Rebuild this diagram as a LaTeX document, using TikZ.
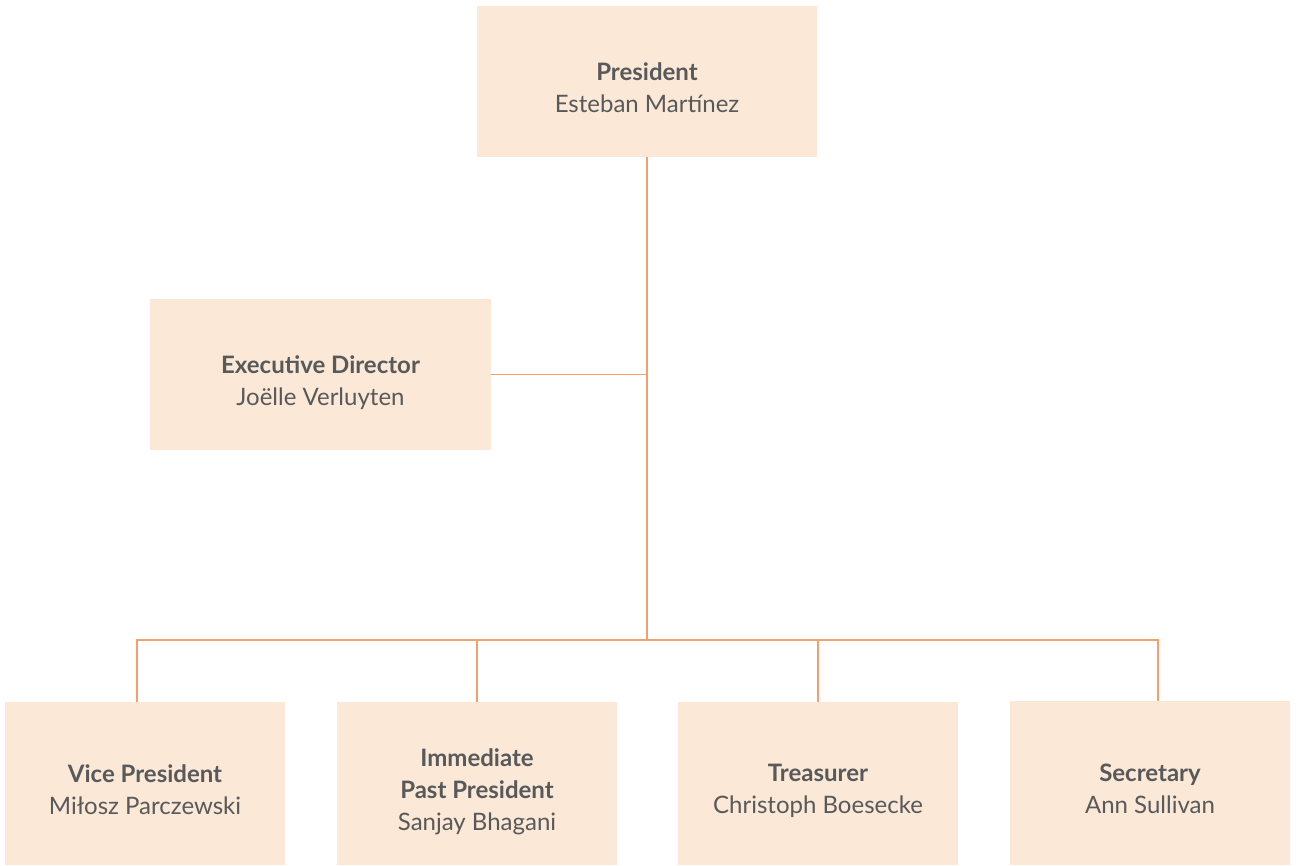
\documentclass[tikz,border=0pt]{standalone}
\usepackage{fontspec}
\setmainfont{Lato}
\definecolor{boxfill}{HTML}{FBE8D6}
\definecolor{linecol}{HTML}{F4A06A}
\definecolor{txt}{HTML}{58595B}
\newcommand{\dsc}{\vphantom{gy}}
\begin{document}
\begin{tikzpicture}[x=0.75pt,y=-0.75pt,
  role/.style={fill=boxfill,draw=none,inner sep=0pt},
  roletxt/.style={inner sep=0pt,align=center,text=txt,yshift=-5.9pt,
    font=\fontsize{18pt}{24pt}\selectfont},
  link/.style={draw=linecol,line width=1.1pt}]
\useasboundingbox (0,0) rectangle (1298,865);
\node[role,minimum width=255pt,minimum height=113.25pt,
  label={[roletxt]center:{\textbf{President}\\Esteban Martínez\dsc}}] (pres) at (647,81.5) {};
\node[role,minimum width=255.75pt,minimum height=113.25pt,
  label={[roletxt]center:{\textbf{Executive Director}\\Joëlle Verluyten\dsc}}] (ed) at (320.5,374.5) {};
\node[role,minimum width=210pt,minimum height=122.25pt,
  label={[roletxt]center:{\textbf{Vice President}\\Miłosz Parczewski\dsc}}] (vp) at (145,783.5) {};
\node[role,minimum width=210pt,minimum height=122.25pt,
  label={[roletxt]center:{\textbf{Immediate}\\\textbf{Past President}\\Sanjay Bhagani\dsc}}] (ipp) at (477,783.5) {};
\node[role,minimum width=210pt,minimum height=122.25pt,
  label={[roletxt]center:{\textbf{Treasurer}\\Christoph Boesecke\dsc}}] (tr) at (818,783.5) {};
\node[role,minimum width=210pt,minimum height=123pt,
  label={[roletxt]center:{\textbf{Secretary}\\Ann Sullivan\dsc}}] (sec) at (1150,783) {};
\coordinate (bus) at (647,640);
\coordinate (edj) at (647,374.5);
\draw[link] (pres.south) -- (bus);
\draw[link] (ed.east) -- (edj);
\draw[link] (vp.north -| 137,0) |- (bus);
\draw[link] (sec.north -| 1158,0) |- (bus);
\draw[link] (ipp.north) -- (ipp.north |- bus);
\draw[link] (tr.north) -- (tr.north |- bus);
\end{tikzpicture}
\end{document}
